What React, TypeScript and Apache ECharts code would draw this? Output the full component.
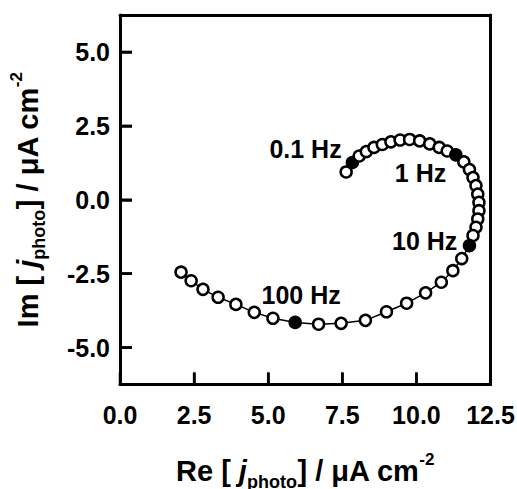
import React, { useEffect, useRef } from "react";
import * as echarts from "echarts";

// Re [j_photo] (µA cm^-2) of each point
const reValues = [
  7.63, 7.84, 8.07, 8.31, 8.57, 8.85, 9.14, 9.45, 9.77, 10.11, 10.45, 10.77, 11.04, 11.33,
  11.6, 11.79, 11.91, 12.01, 12.07, 12.11, 12.11, 12.07, 12.01, 11.91, 11.79, 11.53, 11.23,
  10.84, 10.31, 9.67, 8.99, 8.28, 7.46, 6.7, 5.91, 5.16, 4.53, 3.91, 3.31, 2.8, 2.4, 2.06,
];
// Im [j_photo] (µA cm^-2) of each point
const imValues = [
  0.94, 1.26, 1.48, 1.63, 1.77, 1.87, 1.96, 2.02, 2.04, 1.99, 1.89, 1.77, 1.65, 1.52,
  1.28, 1.02, 0.75, 0.48, 0.19, -0.09, -0.37, -0.65, -0.93, -1.21, -1.55, -1.99, -2.4,
  -2.79, -3.15, -3.5, -3.79, -4.08, -4.18, -4.21, -4.15, -4.01, -3.81, -3.54, -3.3, -3.03,
  -2.74, -2.45,
];
// indices of the highlighted (filled) frequency points
const filledIndices = [1, 13, 24, 34];

// frequency annotations: text and anchor (Re, Im)
const freqLabels = ["0.1 Hz", "1 Hz", "10 Hz", "100 Hz"];
const freqLabelRe = [6.26, 10.14, 10.28, 6.11];
const freqLabelIm = [1.72, 0.9, -1.38, -3.22];

const xMin = 0;
const xMax = 12.5;
const yMin = -6.25;
const yMax = 6.25;
const xTicks = [0, 2.5, 5, 7.5, 10, 12.5];
const yTicks = [-5, -2.5, 0, 2.5, 5];

const FONT = "'Liberation Sans', Arial, Helvetica, sans-serif";

export default function App() {
  const ref = useRef<HTMLDivElement>(null);

  useEffect(() => {
    if (!ref.current) return;
    const chart = echarts.init(ref.current, undefined, { renderer: "svg" });

    const points = reValues.map((re, i) => {
      const filled = filledIndices.includes(i);
      return {
        value: [re, imValues[i]],
        itemStyle: filled ? { color: "#000", borderColor: "#000" } : undefined,
      };
    });

    const labelData = freqLabels.map((t, i) => ({
      name: t,
      value: [freqLabelRe[i], freqLabelIm[i]],
    }));

    const titleRich = {
      b: { fontSize: 29, fontWeight: "bold", fontFamily: FONT, color: "#000", lineHeight: 40 },
      i: { fontSize: 29, fontWeight: "bold", fontStyle: "italic", fontFamily: FONT, color: "#000", lineHeight: 40 },
      sub: { fontSize: 18, fontWeight: "bold", fontFamily: FONT, color: "#000", lineHeight: 18, verticalAlign: "bottom" },
      sup: { fontSize: 17, fontWeight: "bold", fontFamily: FONT, color: "#000", lineHeight: 17, verticalAlign: "top" },
    };

    const TICK_LEN = 12;
    const TICK_W = 2.5;
    const tickLine = { color: "#000", width: TICK_W };
    const frameLine = { color: "#000", width: 3 };
    const labelStyle = {
      fontSize: 25,
      fontWeight: "bold",
      fontFamily: FONT,
      color: "#000",
      formatter: (v: number) => v.toFixed(1),
    };

    chart.setOption({
      animation: false,
      grid: {
        left: 120,
        top: 15,
        width: 370.5,
        height: 369.5,
        containLabel: false,
        outerBoundsMode: "none",
      },
      xAxis: [
        {
          type: "value",
          min: xMin,
          max: xMax,
          interval: 2.5,
          axisLine: { show: true, onZero: false, lineStyle: frameLine },
          splitLine: { show: false },
          axisTick: { show: true, inside: true, length: TICK_LEN, lineStyle: tickLine },
          axisLabel: { ...labelStyle, margin: 18 },
          name: "{b|Re [ }{i|j}{sub|photo}{b|] / μA cm}{sup|-2}",
          nameLocation: "middle",
          nameGap: 66,
          nameMoveOverlap: false,
          nameTextStyle: { rich: titleRich },
        },
        {
          type: "value",
          position: "top",
          min: xMin,
          max: xMax,
          axisLine: { show: true, onZero: false, lineStyle: frameLine },
          axisTick: { show: false },
          axisLabel: { show: false },
          splitLine: { show: false },
        },
      ],
      yAxis: [
        {
          type: "value",
          min: yMin,
          max: yMax,
          axisLine: { show: true, onZero: false, lineStyle: frameLine },
          splitLine: { show: false },
          axisTick: {
            show: true,
            inside: true,
            length: TICK_LEN,
            lineStyle: tickLine,
            customValues: yTicks,
          },
          axisLabel: { ...labelStyle, margin: 10, customValues: yTicks },
          name: "{b|Im [ }{i|j}{sub|photo}{b|] / μA cm}{sup|-2}",
          nameLocation: "middle",
          nameGap: 72,
          nameRotate: 90,
          nameMoveOverlap: false,
          nameTextStyle: { rich: titleRich },
        },
        {
          type: "value",
          position: "right",
          min: yMin,
          max: yMax,
          axisLine: { show: true, onZero: false, lineStyle: frameLine },
          axisTick: { show: false },
          axisLabel: { show: false },
          splitLine: { show: false },
        },
      ],
      series: [
        {
          // inward ticks on the bottom axis, drawn as thin filled bars
          type: "custom",
          clip: false,
          z: 10,
          data: xTicks.map((v) => [v, yMin]),
          renderItem: (_p: any, api: any) => {
            const c = api.coord([api.value(0), api.value(1)]);
            return {
              type: "rect",
              shape: { x: c[0] - TICK_W / 2, y: c[1] - TICK_LEN, width: TICK_W, height: TICK_LEN },
              style: { fill: "#000" },
            };
          },
        },
        {
          // inward ticks on the left axis
          type: "custom",
          clip: false,
          z: 10,
          data: yTicks.map((v) => [xMin, v]),
          renderItem: (_p: any, api: any) => {
            const c = api.coord([api.value(0), api.value(1)]);
            return {
              type: "rect",
              shape: { x: c[0], y: c[1] - TICK_W / 2, width: TICK_LEN, height: TICK_W },
              style: { fill: "#000" },
            };
          },
        },
        {
          type: "line",
          data: points,
          symbol: "circle",
          symbolSize: 11,
          showAllSymbol: true,
          lineStyle: { color: "#000", width: 1.5 },
          itemStyle: { color: "#fff", borderColor: "#000", borderWidth: 2.5 },
          z: 3,
        },
        {
          type: "scatter",
          data: labelData,
          symbolSize: 0,
          itemStyle: { opacity: 1 },
          label: {
            show: true,
            position: "inside",
            formatter: (p: any) => p.name,
            fontSize: 25,
            fontWeight: "bold",
            fontFamily: FONT,
            color: "#000",
            opacity: 1,
          },
          z: 4,
        },
      ],
    });

    return () => chart.dispose();
  }, []);

  return (
    <div
      ref={ref}
      style={{ position: "fixed", left: 0, top: 0, width: 517, height: 489, background: "#fff" }}
    />
  );
}
